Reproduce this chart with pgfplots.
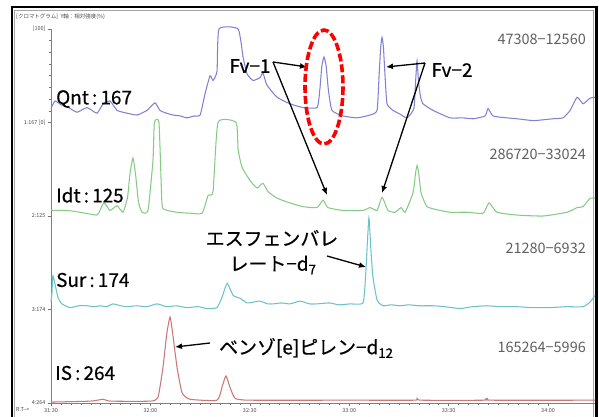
\documentclass[border=0pt]{standalone}
\usepackage{fontspec}
\setmainfont{Noto Sans CJK JP}
\newfontfamily\jpb[FakeBold=0.5]{Noto Sans CJK JP}
\usepackage{pgfplots}
\usepackage{pgfplotstable}
\pgfplotsset{compat=1.18}
\usetikzlibrary{arrows.meta}

\definecolor{cQ}{RGB}{128,128,214}
\definecolor{cI}{RGB}{132,204,132}
\definecolor{cS}{RGB}{108,194,200}
\definecolor{cR}{RGB}{204,118,118}
\definecolor{numgray}{RGB}{96,96,96}

% Qnt:167 (relative %)
\pgfplotstableread{
t v
31.500 15
31.520 23
31.550 19
31.580 17
31.631 11
31.681 16
31.731 10
31.762 20
31.797 23
31.832 13
31.882 10
31.933 8
31.983 13
32.023 21
32.048 13
32.080 10
32.114 8
32.150 7
32.184 5
32.220 7
32.250 8
32.275 31
32.300 50
32.315 45
32.335 55
32.345 100
32.441 100
32.466 70
32.486 52
32.516 45
32.551 48
32.566 53
32.586 40
32.637 27
32.702 20
32.768 16
32.838 16
32.852 35
32.862 60
32.873 70
32.884 60
32.895 35
32.913 13
32.969 7
33.039 5
33.105 8
33.140 13
33.150 50
33.158 80
33.165 91
33.172 80
33.180 50
33.190 20
33.220 13
33.255 9
33.291 5
33.325 15
33.334 45
33.341 66
33.348 45
33.358 28
33.371 20
33.421 13
33.507 5
33.570 5
33.623 4
33.683 7
33.698 15
33.723 7
33.790 5
33.844 4
33.925 2
33.980 3
34.025 4
34.075 5
34.111 13
34.146 27
34.176 20
34.211 26
34.236 27
}\qnt

% Idt:125
\pgfplotstableread{
t v
31.500 6
31.580 6
31.646 4
31.731 1
31.746 6
31.767 14
31.797 6
31.832 11
31.862 4
31.885 20
31.897 45
31.912 62
31.925 45
31.940 15
31.958 4
31.988 6
32.013 60
32.020 100
32.043 100
32.055 30
32.063 8
32.134 4
32.199 3
32.260 3
32.290 22
32.315 26
32.340 100
32.431 100
32.441 71
32.461 52
32.501 38
32.536 30
32.566 35
32.592 26
32.637 19
32.702 14
32.768 10
32.838 9
32.868 17
32.893 9
32.969 6
33.069 6
33.105 9
33.140 6
33.165 20
33.195 6
33.230 4
33.261 9
33.281 4
33.321 25
33.333 45
33.341 54
33.350 45
33.361 25
33.391 10
33.457 6
33.507 4
33.592 4
33.673 3
33.703 14
33.743 4
33.844 1
33.975 0
34.096 4
34.146 9
34.176 10
34.211 19
34.236 19
}\idt

% Sur:174
\pgfplotstableread{
t v
31.500 8
31.505 18
31.510 36
31.535 13
31.555 6
31.596 2
31.640 4
31.681 4
31.720 3
31.746 4
31.780 3
31.812 6
31.850 4
31.882 3
31.930 4
31.983 3
32.033 6
32.083 3
32.130 4
32.184 2
32.240 3
32.285 1
32.335 2
32.360 13
32.386 28
32.416 15
32.451 12
32.486 7
32.520 8
32.551 9
32.590 6
32.617 6
32.660 7
32.702 6
32.752 9
32.800 6
32.838 6
32.900 7
32.950 5
33.004 6
33.069 7
33.082 35
33.089 63
33.099 98
33.109 63
33.119 35
33.140 10
33.170 4
33.210 5
33.255 4
33.300 5
33.350 4
33.421 4
33.480 3
33.557 1
33.620 3
33.693 4
33.760 3
33.844 3
33.920 2
34.010 2
34.090 3
34.176 3
34.211 8
34.236 15
}\sur

% IS:264
\pgfplotstableread{
t v
31.500 1
31.700 2
31.762 4
31.800 2
32.000 2
32.038 6
32.063 38
32.083 75
32.099 92
32.114 71
32.134 38
32.159 11
32.199 4
32.335 3
32.360 17
32.380 29
32.400 17
32.426 5
32.501 3
33.000 3
33.330 3
33.341 5
33.360 3
33.680 3
33.693 5
33.710 3
34.236 3
}\istd

\begin{document}
\begin{tikzpicture}
\useasboundingbox (0bp,0bp) rectangle (599bp,417bp);
\fill[white] (0bp,0bp) rectangle (599bp,417bp);
\draw[black!35, line width=0.8bp] (14.5bp,-5bp) -- (14.5bp,406.5bp) -- (593.5bp,406.5bp) -- (593.5bp,-5bp);
\draw[black, line width=2.4bp] (12bp,-5bp) -- (12bp,410bp) -- (596.5bp,410bp) -- (596.5bp,-5bp);

\begin{axis}[
  at={(51bp,14bp)}, anchor=south west,
  scale only axis, width=544bp, height=374bp,
  xmin=31.5, xmax=34.236, ymin=0, ymax=400,
  axis x line*=bottom, axis y line*=left,
  axis line style={black!50, line width=0.6bp},
  clip=false,
  xtick={31.5,32,32.5,33,33.5,34},
  xticklabels={31:30,32:00,32:30,33:00,33:30,34:00},
  minor x tick num=9,
  ytick={0,100,200,300,400},
  yticklabels={4:264,3:174,2:125,1:167 [0],[100]},
  minor ytick={312.5,325,337.5,350,362.5,375,387.5},
  tick align=outside,
  major tick length=3bp, minor tick length=2bp,
  tick style={black!55, line width=0.5bp},
  tick label style={font=\fontsize{5.5}{6}\selectfont, text=black!70},
  xticklabel style={yshift=1bp},
  yticklabel style={xshift=1bp},
  every axis plot/.append style={line width=1.05bp, smooth, tension=0.3},
]
\addplot[cQ] table[x=t, y expr=\thisrow{v}+300] {\qnt};
\addplot[cI] table[x=t, y expr=\thisrow{v}+200] {\idt};
\addplot[cS] table[x=t, y expr=\thisrow{v}+100] {\sur};
\addplot[cR] table[x=t, y expr=\thisrow{v}] {\istd};
\end{axis}

\begin{scope}[shift={(0bp,417bp)}, x=1bp, y=-1bp]
  \node[anchor=west, font=\fontsize{5.5}{6}\selectfont, text=black!70, inner sep=0] at (16,17) {[クロマトグラム]\ \ Y軸：相対強度(\%)};
  \node[anchor=west, font=\fontsize{5.5}{6}\selectfont, text=black!70, inner sep=0] at (16,410) {R.T-->};

  \node[anchor=west, inner sep=0, font=\jpb\fontsize{19}{22}\selectfont] at (56,99) {Qnt\,:\,167};
  \node[anchor=west, inner sep=0, font=\jpb\fontsize{19}{22}\selectfont] at (56,195) {Idt\,:\,125};
  \node[anchor=west, inner sep=0, font=\jpb\fontsize{19}{22}\selectfont] at (56,280) {Sur\,:\,174};
  \node[anchor=west, inner sep=0, font=\jpb\fontsize{19}{22}\selectfont] at (55,373) {IS\,:\,264};

  \node[inner sep=0, font=\jpb\fontsize{19}{22}\selectfont] at (250,66) {Fv−1};
  \node[inner sep=0, font=\jpb\fontsize{19}{22}\selectfont] at (452,70) {Fv−2};

  \node[anchor=east, inner sep=0, text=numgray, font=\fontsize{14.5}{16}\selectfont] at (586,39) {47308−12560};
  \node[anchor=east, inner sep=0, text=numgray, font=\fontsize{14.5}{16}\selectfont] at (586,154) {286720−33024};
  \node[anchor=east, inner sep=0, text=numgray, font=\fontsize{14.5}{16}\selectfont] at (586,248) {21280−6932};
  \node[anchor=east, inner sep=0, text=numgray, font=\fontsize{14.5}{16}\selectfont] at (586,347) {165264−5996};

  \node[inner sep=0, font=\jpb\fontsize{19}{22}\selectfont] at (272,238) {エスフェンバレ};
  \node[inner sep=0, font=\jpb\fontsize{19}{22}\selectfont] at (273,265) {レート−d\textsubscript{7}};
  \node[anchor=west, inner sep=0, font=\jpb\fontsize{19}{22}\selectfont] at (219,348) {ベンゾ[e]ピレン−d\textsubscript{12}};

  \begin{scope}[line width=1.3bp, -{Latex[length=7bp,width=6bp]}]
    \draw (273,62) -- (307,67);
    \draw (273,62) -- (327,195);
    \draw (425,63) -- (386,67);
    \draw (425,63) -- (382,193);
    \draw (327,256) -- (366,267);
    \draw (210,343) -- (175,347);
  \end{scope}

  \draw[red, line width=3.6bp, dash pattern=on 8bp off 3bp] (324,87) ellipse [x radius=19, y radius=57];
\end{scope}
\end{tikzpicture}
\end{document}
